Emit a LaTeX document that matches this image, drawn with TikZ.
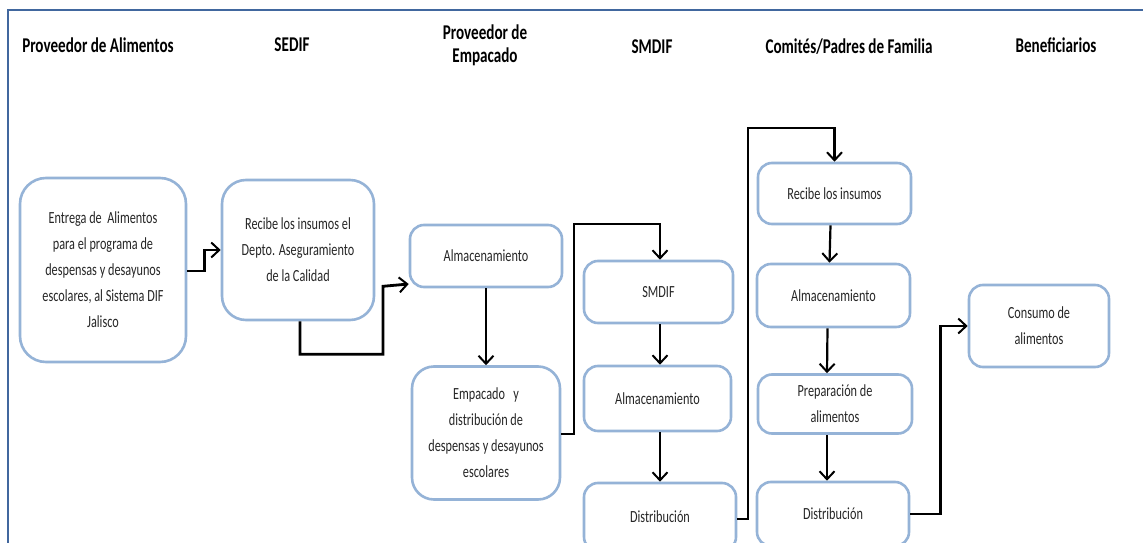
\documentclass[tikz,border=0pt]{standalone}
\usepackage{fontspec}
\setmainfont{Carlito}
\newfontfamily\boxfont{Carlito}[FakeStretch=0.72]
\newfontfamily\hdrfont{Carlito}[FakeStretch=0.72]
\usetikzlibrary{arrows.meta}
\definecolor{framec}{HTML}{41679E}
\definecolor{boxc}{HTML}{95B3D7}
\tikzset{
  pbox/.style={draw=boxc, line width=2.6pt, rounded corners=#1, align=center,
    font=\boxfont\fontsize{17}{26}\selectfont, text=black!85, inner sep=0pt},
  pbox/.default=14pt,
  hdr/.style={font=\hdrfont\bfseries\fontsize{21}{23}\selectfont, align=center, text=black},
  arr/.style={draw=black, line width=2.2pt, -{Straight Barb[length=8pt,width=15pt,line width=2pt]}},
  arrthick/.style={arr, line width=2.8pt},
  arrthin/.style={arr, line width=1.6pt}
}
\begin{document}
\begin{tikzpicture}[x=1pt,y=-1pt]
\useasboundingbox (0,0) rectangle (1143,543);
\fill[white] (0,0) rectangle (1143,543);
\draw[framec, line width=2.4pt] (8,560) -- (8,10) -- (1160,10);

% headers
\node[hdr] (h1) at (98,45) {Proveedor de Alimentos};
\node[hdr] (h2) at (292,45) {SEDIF};
\node[hdr] (h3) at (485,45) {Proveedor de\\Empacado};
\node[hdr] (h4) at (652,47) {SMDIF};
\node[hdr] (h5) at (849,47) {Comités/Padres de Familia};
\node[hdr] (h6) at (1056,45) {Beneficiarios};

% boxes
\node[pbox=26pt, minimum width=166pt, minimum height=184pt] (e1) at (103,270)
  {Entrega de\ \ Alimentos\\para el programa de\\despensas y desayunos\\escolares, al Sistema DIF\\Jalisco};
\node[pbox=24pt, minimum width=152pt, minimum height=140pt] (s1) at (298,250)
  {Recibe los insumos el\\Depto. Aseguramiento\\de la Calidad};
\node[pbox, minimum width=152pt, minimum height=62pt] (p1) at (486,256) {Almacenamiento};
\node[pbox=22pt, minimum width=148pt, minimum height=133pt] (p2) at (486,433)
  {Empacado\ \ \ y\\distribución de\\despensas y desayunos\\escolares};
\node[pbox, minimum width=149pt, minimum height=62pt] (m1) at (658.5,292) {SMDIF};
\node[pbox, minimum width=147pt, minimum height=65pt] (m2) at (657.5,398.5) {Almacenamiento};
\node[pbox, minimum width=152pt, minimum height=68pt] (m3) at (660,517) {Distribución};
\node[pbox, minimum width=153pt, minimum height=61pt] (c1) at (834.5,193.5) {Recibe los insumos};
\node[pbox, minimum width=153pt, minimum height=63pt] (c2) at (833.5,295.5) {Almacenamiento};
\node[pbox, minimum width=154pt, minimum height=59pt] (c3) at (835,404) {Preparación de\\alimentos};
\node[pbox, minimum width=152pt, minimum height=64pt] (c4) at (833,514) {Distribución};
\node[pbox, minimum width=140pt, minimum height=82pt] (b1) at (1039,326) {Consumo de\\alimentos};

% connectors
\draw[arrthick] ([yshift=-1pt]e1.east) -- ++(17,0) |- (s1.west);
\draw[arrthick] ([xshift=2pt]s1.south) -- ++(0,33) -| ++(83,-68) -- ([yshift=-28pt]p1.west);
\draw[arrthin] (p1.south) -- (p2.north);
\draw[arr] ([yshift=-1pt]p2.east) -| ++(13,-210) -| ([xshift=1.5pt]m1.north);
\draw[arr] ([xshift=1.5pt]m1.south) -- ([xshift=2.5pt]m2.north);
\draw[arr] ([xshift=2.5pt]m2.south) -- (m3.north);
\draw[arr] ([yshift=-2pt]m3.east) -| ++(11,-391) -| (c1.north);
\draw[arr] ([xshift=-4pt]c1.south) -- ([xshift=-4pt]c2.north);
\draw[arr] ([xshift=-6pt]c2.south) -- ([xshift=-8pt]c3.north);
\draw[arr] ([xshift=-8pt]c3.south) -- ([xshift=-6pt]c4.north);
\draw[arrthick] (c4.east) -- ++(30,0) |- (b1.west);
\end{tikzpicture}
\end{document}
